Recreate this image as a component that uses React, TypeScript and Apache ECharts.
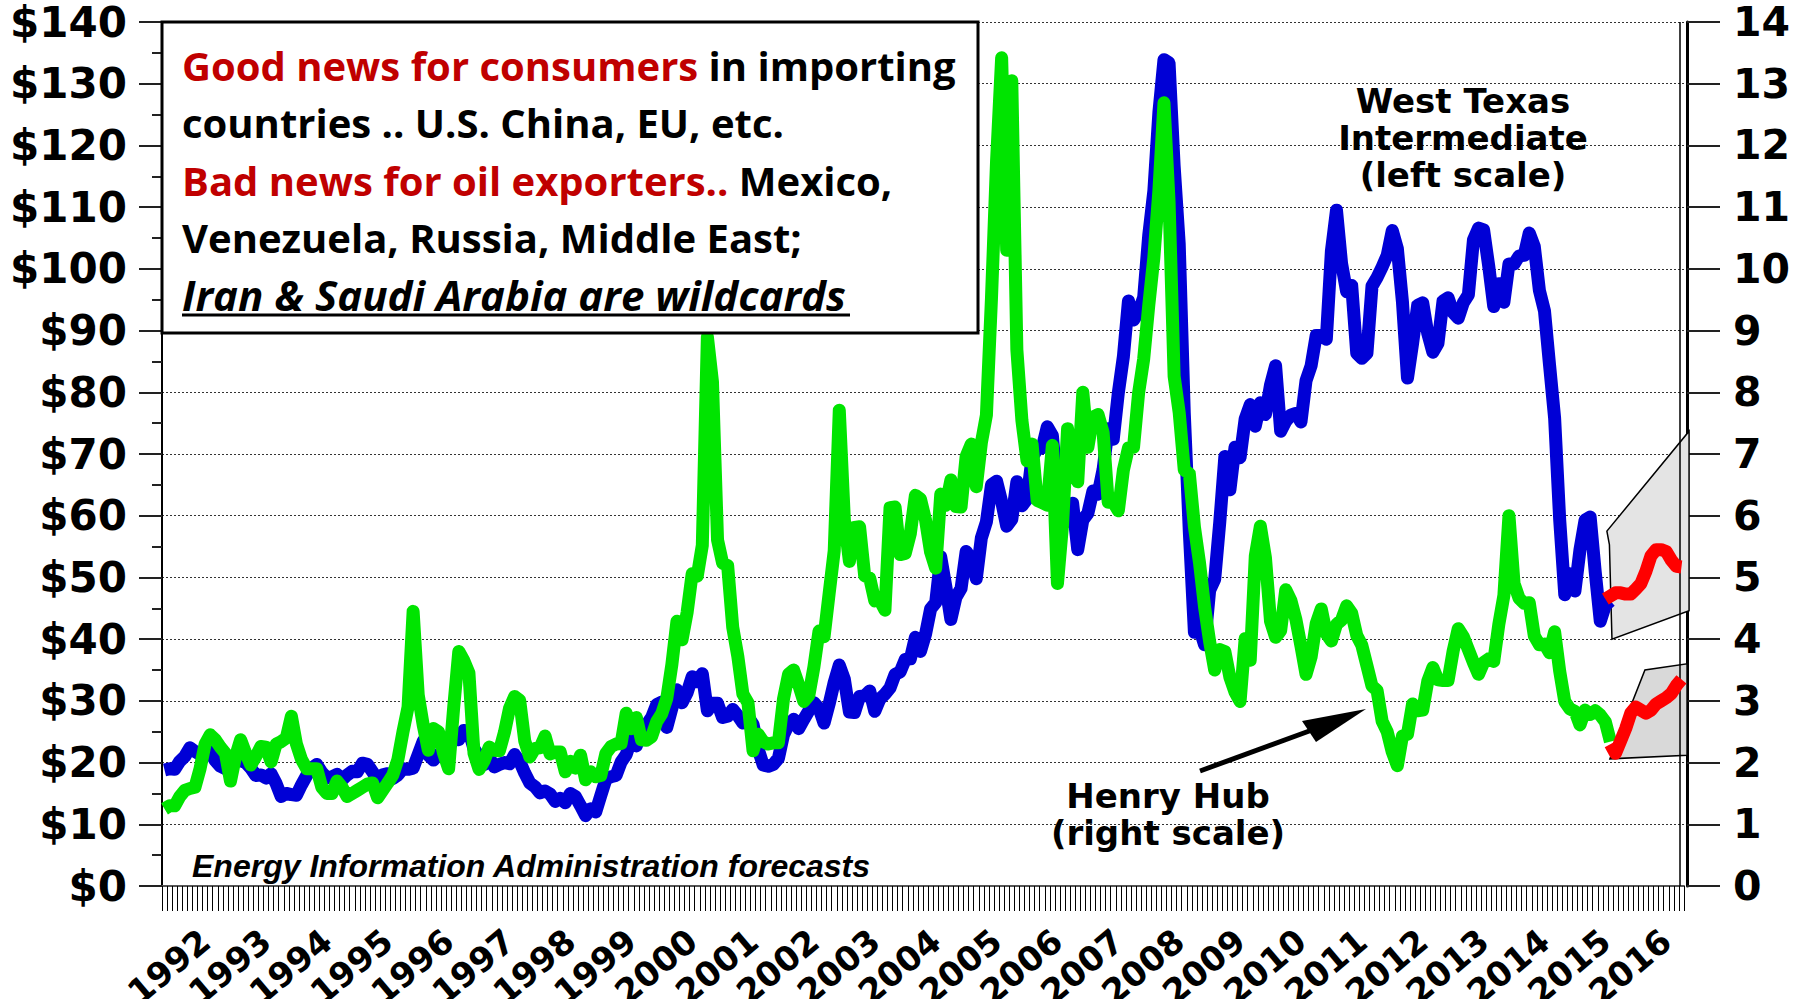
import React, { useEffect, useRef } from "react";
import * as echarts from "echarts";

// ---------- DATA ----------
const years = [1992, 1993, 1994, 1995, 1996, 1997, 1998, 1999, 2000, 2001, 2002, 2003, 2004,
  2005, 2006, 2007, 2008, 2009, 2010, 2011, 2012, 2013, 2014, 2015, 2016];
const monthCodes = ["01", "02", "03", "04", "05", "06", "07", "08", "09", "10", "11", "12"];

// West Texas Intermediate, $/bbl, monthly Jan 1992 - Oct 2015 (left scale)
const wtiMonthly = [
  18.8, 19.0, 18.9, 20.2, 21.0, 22.4, 21.8, 21.3, 21.9, 21.7, 20.3, 19.4,
  19.0, 20.1, 20.3, 20.3, 20.0, 19.1, 17.9, 18.0, 17.5, 18.2, 16.6, 14.5,
  15.0, 14.8, 14.7, 16.4, 17.9, 19.1, 19.7, 18.4, 17.5, 17.7, 18.1, 17.2,
  18.0, 18.6, 18.5, 19.9, 19.7, 18.5, 17.3, 18.0, 18.2, 17.4, 18.0, 19.0,
  18.9, 19.1, 21.3, 23.5, 21.2, 20.4, 21.3, 21.9, 24.0, 24.9, 23.7, 25.2,
  25.1, 22.2, 21.0, 19.7, 20.8, 19.3, 19.7, 20.0, 19.8, 21.3, 20.2, 18.3,
  16.7, 16.1, 15.1, 15.4, 14.9, 13.7, 14.2, 13.5, 15.0, 14.5, 13.0, 11.4,
  12.5, 12.0, 14.7, 17.3, 17.7, 17.9, 20.1, 21.3, 23.8, 22.7, 25.0, 26.1,
  27.3, 29.4, 29.8, 25.7, 28.8, 31.8, 29.7, 31.3, 33.9, 33.1, 34.4, 28.4,
  29.6, 29.6, 27.3, 27.5, 28.6, 27.6, 26.4, 27.4, 26.2, 22.2, 19.6, 19.4,
  19.7, 20.7, 24.5, 26.2, 27.0, 25.5, 27.0, 28.4, 29.7, 28.8, 26.4, 29.5,
  33.0, 35.8, 33.5, 28.2, 28.1, 30.7, 30.8, 31.6, 28.3, 30.3, 31.1, 32.1,
  34.3, 34.7, 36.7, 36.8, 40.3, 38.0, 40.8, 44.9, 45.9, 53.3, 48.5, 43.2,
  46.8, 48.2, 54.2, 53.0, 49.8, 56.4, 59.0, 65.0, 65.6, 62.3, 58.3, 59.4,
  65.5, 61.6, 62.7, 69.4, 70.8, 71.0, 74.4, 73.0, 63.8, 58.9, 59.1, 62.0,
  54.5, 59.3, 60.4, 64.0, 63.5, 67.5, 74.1, 72.4, 79.9, 85.8, 94.8, 91.7,
  93.0, 95.4, 105.5, 112.6, 125.4, 133.9, 133.4, 116.7, 104.1, 76.6, 57.3, 41.1,
  41.7, 39.1, 47.9, 49.7, 59.0, 69.6, 64.2, 71.1, 69.4, 75.7, 78.0, 74.5,
  78.3, 76.4, 81.2, 84.3, 73.7, 75.3, 76.3, 76.6, 75.2, 81.9, 84.3, 89.2,
  89.2, 88.6, 102.9, 109.5, 100.9, 96.3, 97.3, 86.3, 85.5, 86.3, 97.2, 98.6,
  100.3, 102.2, 106.2, 103.3, 94.7, 82.3, 87.9, 94.1, 94.5, 89.5, 86.5, 87.9,
  94.8, 95.3, 92.9, 92.0, 94.5, 95.8, 104.7, 106.6, 106.3, 100.5, 93.9, 97.6,
  94.6, 100.8, 100.8, 102.1, 102.2, 105.8, 103.6, 96.5, 93.2, 84.4, 75.8, 59.3,
  47.2, 50.6, 47.8, 54.5, 59.3, 59.8, 50.9, 42.9, 45.5, 46.2,
];

// Henry Hub natural gas, $/MMBtu, monthly Jan 1992 - Oct 2015 (right scale)
const henryHubMonthly = [
  1.25, 1.3, 1.3, 1.45, 1.55, 1.58, 1.6, 1.9, 2.3, 2.45, 2.37, 2.25,
  2.15, 1.7, 2.1, 2.37, 2.15, 1.96, 2.1, 2.26, 2.25, 2.01, 2.3, 2.34,
  2.4, 2.75, 2.3, 2.05, 1.9, 1.9, 1.9, 1.6, 1.5, 1.5, 1.7, 1.6,
  1.45, 1.5, 1.55, 1.6, 1.65, 1.67, 1.43, 1.55, 1.67, 1.8, 2.05, 2.5,
  2.9, 4.45, 3.1, 2.6, 2.2, 2.55, 2.5, 2.15, 1.9, 2.9, 3.8, 3.65,
  3.45, 2.15, 1.89, 2.03, 2.25, 2.2, 2.19, 2.49, 2.88, 3.07, 3.01, 2.35,
  2.09, 2.23, 2.24, 2.43, 2.14, 2.17, 2.17, 1.85, 2.02, 1.91, 2.12, 1.72,
  1.85, 1.77, 1.79, 2.15, 2.26, 2.3, 2.31, 2.8, 2.55, 2.73, 2.37, 2.36,
  2.42, 2.66, 2.79, 3.04, 3.59, 4.29, 3.99, 4.43, 5.06, 5.02, 5.52, 8.9,
  8.17, 5.61, 5.23, 5.19, 4.19, 3.72, 3.11, 2.97, 2.19, 2.46, 2.34, 2.3,
  2.32, 2.32, 3.03, 3.43, 3.5, 3.26, 2.99, 3.09, 3.55, 4.13, 4.04, 4.74,
  5.43, 7.71, 5.93, 5.26, 5.81, 5.82, 5.03, 4.99, 4.62, 4.63, 4.47, 6.13,
  6.14, 5.37, 5.39, 5.71, 6.33, 6.27, 5.93, 5.41, 5.15, 6.35, 6.17, 6.58,
  6.15, 6.14, 6.96, 7.16, 6.47, 7.18, 7.63, 9.53, 11.75, 13.42, 10.3, 13.05,
  8.69, 7.54, 6.89, 7.16, 6.25, 6.21, 6.17, 7.14, 4.9, 5.85, 7.41, 6.73,
  6.55, 8.0, 7.11, 7.6, 7.64, 7.35, 6.22, 6.22, 6.08, 6.74, 7.1, 7.11,
  7.99, 8.54, 9.41, 10.18, 11.27, 12.69, 11.09, 8.26, 7.67, 6.74, 6.68, 5.82,
  5.24, 4.52, 3.96, 3.5, 3.83, 3.8, 3.38, 3.14, 2.99, 4.01, 3.66, 5.35,
  5.83, 5.32, 4.29, 4.03, 4.14, 4.8, 4.63, 4.32, 3.89, 3.43, 3.71, 4.25,
  4.49, 4.09, 3.97, 4.24, 4.31, 4.54, 4.42, 4.06, 3.9, 3.57, 3.24, 3.17,
  2.67, 2.5, 2.17, 1.95, 2.43, 2.46, 2.95, 2.84, 2.85, 3.32, 3.54, 3.34,
  3.33, 3.33, 3.81, 4.17, 4.04, 3.83, 3.62, 3.43, 3.62, 3.68, 3.64, 4.24,
  4.71, 6.0, 4.9, 4.66, 4.58, 4.59, 4.05, 3.91, 3.92, 3.78, 4.12, 3.48,
  2.99, 2.87, 2.83, 2.61, 2.85, 2.78, 2.84, 2.77, 2.66, 2.34,
];

// EIA forecasts (red), month index from Jan 1992 = 0
const wtiForecastStart = 284; // Sep 2015
const wtiForecast = [46.5, 47.0, 47.5, 47.5, 47.3, 47.3, 48.1, 49.0, 51.0, 53.5, 54.5, 54.5, 54.2, 52.8, 51.8, 51.7];
const hhForecastStart = 285; // Oct 2015
const hhForecast = [2.3, 2.15, 2.35, 2.55, 2.8, 2.9, 2.85, 2.8, 2.85, 2.95, 3.0, 3.05, 3.12, 3.25, 3.35];

// Forecast confidence bands: [months since Jan 1992, value]
const wtiBand = [[284.8, 57.5], [285.3, 55.3], [285.8, 40.0], [301, 44.6], [301, 73.7]];
const hhBand = [[285.4, 2.06], [292.3, 3.5], [300.6, 3.6], [300.6, 2.12]];

// ---------- BUILD ----------
const monthCats = years.flatMap((y) => monthCodes.map((m) => `${y}-${m}`));

const AXIS_FONT = "DejaVu Sans";

function bandSeries(band: number[][], yIndex: number, fill: string) {
  return {
    type: "custom",
    xAxisIndex: 1,
    yAxisIndex: yIndex,
    clip: false,
    z: 1,
    silent: true,
    data: band,
    renderItem: (params: any, api: any) => {
      if (params.dataIndex !== 0) return null;
      const pts = band.map((p) => api.coord([p[0], p[1]]));
      return {
        type: "polygon",
        shape: { points: pts },
        style: { fill, stroke: "#000", lineWidth: 1.5 },
      };
    },
  };
}

function buildOption() {
  const lineCommon = {
    type: "line",
    showSymbol: false,
    symbol: "none",
    smooth: false,
    silent: true,
  };
  return {
    animation: false,
    backgroundColor: "#ffffff",
    grid: {
      left: 162,
      right: 120,
      top: 22,
      bottom: 113,
      containLabel: false,
      outerBoundsMode: "none",
    },
    xAxis: [
      {
        type: "category",
        data: monthCats,
        boundaryGap: true,
        axisLine: { show: true, lineStyle: { color: "#555", width: 2 } },
        axisTick: { show: true, interval: 0, length: 25, lineStyle: { color: "#000", width: 1 } },
        axisLabel: {
          interval: (i: number) => i % 12 === 8,
          formatter: (v: string) => v.slice(0, 4),
          rotate: 40,
          margin: 50,
          showMinLabel: true,
          showMaxLabel: true,
          hideOverlap: false,
          fontFamily: AXIS_FONT,
          fontWeight: "bold",
          fontSize: 34,
          lineHeight: 28,
          color: "#000",
        },
        splitLine: { show: false },
      },
      { type: "value", min: 0, max: 300, show: false },
    ],
    yAxis: [
      {
        type: "value",
        min: 0,
        max: 140,
        interval: 10,
        position: "left",
        axisLine: { show: true, lineStyle: { color: "#000", width: 2 } },
        axisTick: { show: true, length: 23, lineStyle: { color: "#222", width: 2 } },
        minorTick: { show: true, splitNumber: 2, length: 10, lineStyle: { color: "#222", width: 2 } },
        axisLabel: {
          formatter: (v: number) => "$" + v,
          margin: 35,
          padding: [8, 0, 0, 0],
          fontFamily: AXIS_FONT,
          fontWeight: "bold",
          fontSize: 42,
          color: "#000",
        },
        splitLine: { show: true, lineStyle: { color: "#333", type: [2, 2], width: 1 } },
        minorSplitLine: { show: false },
      },
      {
        type: "value",
        min: 0,
        max: 14,
        interval: 1,
        position: "right",
        offset: 3,
        axisLine: { show: true, lineStyle: { color: "#000", width: 3 } },
        axisTick: { show: true, length: 33, lineStyle: { color: "#222", width: 2 } },
        axisLabel: {
          margin: 46,
          padding: [8, 0, 0, 0],
          fontFamily: AXIS_FONT,
          fontWeight: "bold",
          fontSize: 41,
          color: "#000",
        },
        splitLine: { show: false },
      },
    ],
    series: [
      bandSeries(wtiBand, 0, "#e4e4e4"),
      bandSeries(hhBand, 1, "#d9d9d9"),
      {
        ...lineCommon,
        name: "West Texas Intermediate",
        yAxisIndex: 0,
        z: 3,
        data: wtiMonthly,
        lineStyle: { color: "#0000d6", width: 13, join: "round", cap: "butt" },
      },
      {
        ...lineCommon,
        name: "Henry Hub",
        yAxisIndex: 1,
        z: 4,
        data: henryHubMonthly,
        lineStyle: { color: "#00e400", width: 13, join: "round", cap: "butt" },
      },
      {
        ...lineCommon,
        name: "WTI forecast",
        yAxisIndex: 0,
        z: 5,
        data: wtiForecast.map((v, i) => [wtiForecastStart + i, v]),
        lineStyle: { color: "#ff0000", width: 13, join: "round", cap: "butt" },
      },
      {
        ...lineCommon,
        name: "Henry Hub forecast",
        yAxisIndex: 1,
        z: 5,
        data: hhForecast.map((v, i) => [hhForecastStart + i, v]),
        lineStyle: { color: "#ff0000", width: 13, join: "round", cap: "butt" },
      },
    ],
    graphic: [
      {
        type: "line",
        z: 2,
        shape: { x1: 1680, y1: 22, x2: 1680, y2: 886 },
        style: { stroke: "#000", lineWidth: 1.5 },
      },
      {
        type: "rect",
        z: 20,
        shape: { x: 162, y: 22, width: 816, height: 311 },
        style: { fill: "#ffffff", stroke: "#000", lineWidth: 3 },
      },
      ...[
        { t: "{r|Good news for consumers} {k|in importing}", y: 65 },
        { t: "{k|countries .. U.S. China, EU, etc.}", y: 122 },
        { t: "{r|Bad news for oil exporters..} {k|Mexico,}", y: 180 },
        { t: "{k|Venezuela, Russia, Middle East;}", y: 237 },
      ].map((l) => ({
        type: "text",
        z: 21,
        style: {
          text: l.t,
          x: 182,
          y: l.y,
          textAlign: "left",
          textVerticalAlign: "middle",
          font: "bold 40px 'Open Sans'",
          rich: {
            r: { fill: "#c00000", fontFamily: "Open Sans", fontWeight: "bold", fontSize: 40 },
            k: { fill: "#000000", fontFamily: "Open Sans", fontWeight: "bold", fontSize: 40 },
          },
        },
      })),
      {
        type: "text",
        z: 21,
        style: {
          text: "Iran & Saudi Arabia are wildcards",
          x: 182,
          y: 294,
          textAlign: "left",
          textVerticalAlign: "middle",
          fill: "#000",
          fontFamily: "Open Sans",
          fontWeight: "bold",
          fontStyle: "italic",
          fontSize: 42,
        },
      },
      {
        type: "line",
        z: 21,
        shape: { x1: 182, y1: 315, x2: 850, y2: 315 },
        style: { stroke: "#000", lineWidth: 3 },
      },
      ...["West Texas", "Intermediate", "(left scale)"].map((t, i) => ({
        type: "text",
        z: 21,
        style: {
          text: t,
          x: 1463,
          y: 101 + i * 37,
          textAlign: "center",
          textVerticalAlign: "middle",
          fill: "#000",
          fontFamily: AXIS_FONT,
          fontWeight: "bold",
          fontSize: 34,
        },
      })),
      ...["Henry Hub", "(right scale)"].map((t, i) => ({
        type: "text",
        z: 21,
        style: {
          text: t,
          x: 1168,
          y: 796 + i * 37,
          textAlign: "center",
          textVerticalAlign: "middle",
          fill: "#000",
          fontFamily: AXIS_FONT,
          fontWeight: "bold",
          fontSize: 34,
        },
      })),
      {
        type: "line",
        z: 21,
        shape: { x1: 1200, y1: 771, x2: 1312, y2: 730 },
        style: { stroke: "#000", lineWidth: 5 },
      },
      {
        type: "polygon",
        z: 21,
        shape: { points: [[1366, 709], [1302, 721], [1316, 742]] },
        style: { fill: "#000" },
      },
      {
        type: "text",
        z: 21,
        style: {
          text: "Energy Information Administration forecasts",
          x: 192,
          y: 866,
          textAlign: "left",
          textVerticalAlign: "middle",
          fill: "#000",
          fontFamily: "Liberation Sans",
          fontWeight: "bold",
          fontStyle: "italic",
          fontSize: 32,
        },
      },
    ],
  };
}

export default function App() {
  const ref = useRef<HTMLDivElement>(null);
  useEffect(() => {
    document.body.style.margin = "0";
    if (!ref.current) return;
    const chart = echarts.init(ref.current, undefined, { renderer: "svg" });
    chart.setOption(buildOption() as any);
    return () => {
      chart.dispose();
    };
  }, []);
  return (
    <div
      ref={ref}
      style={{ position: "fixed", left: 0, top: 0, width: 1804, height: 999, background: "#fff" }}
    />
  );
}
